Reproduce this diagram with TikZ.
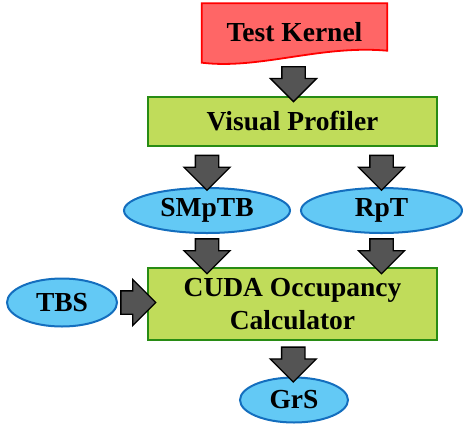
\documentclass[tikz,border=0pt]{standalone}
\usepackage{fontspec}
\setmainfont{Liberation Serif}
\usepackage{tikz}
\usetikzlibrary{shapes.geometric,shapes.arrows,calc,backgrounds}

\definecolor{kernelred}{RGB}{255,102,102}
\definecolor{boxgreen}{RGB}{192,220,90}
\definecolor{boxline}{RGB}{40,140,20}
\definecolor{ovalblue}{RGB}{99,201,245}
\definecolor{ovalline}{RGB}{20,110,190}

\tikzset{
	lbl/.style={font=\fontsize{27.5}{33}\selectfont\bfseries, align=center},
	greenbox/.style={lbl, rectangle, draw=boxline, fill=boxgreen, line width=2pt, minimum width=289pt},
	oval/.style={lbl, ellipse, draw=ovalline, fill=ovalblue, line width=2pt, inner sep=0pt},
	blockarr/.style={single arrow, draw=black, fill=black!67, line width=1.3pt, inner sep=11pt, minimum height=31pt, single arrow head extend=11.5pt, single arrow head indent=0pt}
}

\begin{document}
\begin{tikzpicture}[x=1pt,y=-1pt]
		\useasboundingbox (0,0) rectangle (463,424);
		\node[lbl, minimum width=185pt, minimum height=57pt] (tk) at (294.5,32) {Test Kernel};
		\begin{scope}[on background layer]
			\draw[draw=red, fill=kernelred, line width=1.8pt] (tk.north west) -- (tk.north east) -- ([yshift=10pt]tk.south east) .. controls +(-67pt,6pt) and +(58pt,-7pt) .. ([yshift=-2pt]tk.south west) -- cycle;
		\end{scope}
		\node[greenbox, minimum height=49pt] (vp) at (292.5,121.5) {Visual Profiler};
		\node[oval, minimum width=166pt, minimum height=45pt] (smptb) at (207,210.5) {SMpTB};
		\node[oval, minimum width=161pt, minimum height=45pt] (rpt) at (381.5,210.5) {RpT};
		\node[greenbox, minimum height=72pt] (cuda) at (292.5,304) {CUDA Occupancy\\Calculator};
		\node[oval, minimum width=110pt, minimum height=48pt] (tbs) at (62,302.5) {TBS};
		\node[oval, minimum width=108pt, minimum height=45pt] (grs) at (294,400) {GrS};
		% block arrows
		\node[blockarr, rotate=-90] (a1) at ($(tk.south)!0.5!(vp.north)$) {};
		\node[blockarr, rotate=-90] (a2) at ($(vp.south -| smptb)!0.5!(smptb.north)$) {};
		\node[blockarr, rotate=-90] (a3) at ($(vp.south -| rpt)!0.5!(rpt.north)$) {};
		\node[blockarr, rotate=-90] (a4) at ($(smptb.south)!0.5!(cuda.north -| smptb)$) {};
		\node[blockarr, rotate=-90] (a5) at ($(rpt.south)!0.5!(cuda.north -| rpt)$) {};
		\node[blockarr] (a6) at ($(tbs.east)!0.5!(cuda.west |- tbs)$) {};
		\node[blockarr, rotate=-90] (a7) at ($(cuda.south)!0.5!(grs.north)$) {};
	\end{tikzpicture}
\end{document}
